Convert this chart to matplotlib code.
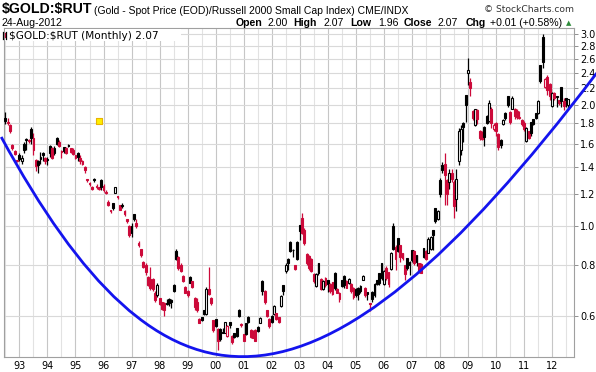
import numpy as np
import matplotlib.pyplot as plt
from matplotlib.path import Path
from matplotlib.patches import PathPatch, Rectangle
from matplotlib.lines import Line2D
from matplotlib.ticker import FixedLocator, FixedFormatter, NullLocator

# monthly bars, month index counted from Jan 1993 (= 0); first bar is Jul 1992
first_month = -6

opens = [
    1.86, 1.80, 1.78, 1.59, 1.54, 1.46,
    1.50, 1.45, 1.60, 1.65, 1.635, 1.74, 1.66, 1.46, 1.45, 1.47, 1.52, 1.48,
    1.47, 1.58, 1.56, 1.52, 1.66, 1.62, 1.54, 1.57, 1.56, 1.59, 1.56, 1.55,
    1.50, 1.52, 1.48, 1.45, 1.40, 1.31, 1.28, 1.25, 1.31, 1.25, 1.25, 1.30,
    1.26, 1.22, 1.15, 1.10, 1.14, 1.21, 1.19, 1.13, 1.13, 1.09, 1.04, 1.00,
    1.00, 1.07, 1.02, 0.91, 0.88, 0.817, 0.80, 0.75, 0.74, 0.74, 0.685, 0.676,
    0.663, 0.649, 0.645, 0.645, 0.66, 0.655, 0.715, 0.87, 0.84, 0.80, 0.755, 0.708,
    0.69, 0.75, 0.73, 0.665, 0.65, 0.59, 0.595, 0.62, 0.605, 0.70, 0.665, 0.585,
    0.588, 0.555, 0.555, 0.548, 0.545, 0.535, 0.58, 0.535, 0.543, 0.558, 0.62, 0.571,
    0.54, 0.574, 0.597, 0.553, 0.55, 0.553, 0.563, 0.575, 0.73, 0.69, 0.62, 0.59,
    0.60, 0.605, 0.608, 0.597, 0.633, 0.715, 0.775, 0.83, 0.916, 0.874, 0.80, 0.916,
    1.005, 1.05, 0.98, 0.855, 0.845, 0.83, 0.762, 0.712, 0.81, 0.74, 0.70, 0.745,
    0.735, 0.72, 0.728, 0.765, 0.70, 0.685, 0.736, 0.755, 0.73, 0.722, 0.72, 0.705,
    0.70, 0.705, 0.712, 0.737, 0.705, 0.688, 0.646, 0.689, 0.72, 0.736, 0.765, 0.81,
    0.72, 0.79, 0.77, 0.785, 1.00, 0.89, 0.934, 0.899, 0.857, 0.80, 0.833, 0.817,
    0.874, 0.87, 0.849, 0.81, 0.805, 0.882, 0.87, 0.86, 0.88, 0.98, 1.11, 1.04,
    1.30, 1.42, 1.43, 1.30, 1.29, 1.36, 1.29, 1.17, 1.45, 1.55, 1.80, 2.12,
    2.40, 2.28, 1.93, 1.78, 1.94, 1.72, 1.70, 1.76, 1.88, 1.83, 1.95, 1.74,
    1.80, 1.69, 1.64, 1.79, 1.91, 2.10, 1.92, 1.96, 1.96, 1.93, 1.855, 1.84,
    1.80, 1.63, 1.72, 1.82, 1.85, 1.91, 1.91, 2.52, 2.95, 2.22, 2.35, 2.26,
    1.99, 2.14, 2.10, 2.06, 2.22, 2.05, 2.08, 2.00,
]
highs = [
    1.92, 1.86, 1.79, 1.60, 1.55, 1.46,
    1.52, 1.50, 1.62, 1.66, 1.65, 1.76, 1.70, 1.47, 1.46, 1.53, 1.53, 1.49,
    1.49, 1.59, 1.57, 1.58, 1.67, 1.64, 1.55, 1.57, 1.57, 1.60, 1.56, 1.56,
    1.50, 1.53, 1.50, 1.46, 1.41, 1.31, 1.29, 1.26, 1.32, 1.27, 1.25, 1.31,
    1.27, 1.23, 1.16, 1.10, 1.14, 1.25, 1.19, 1.13, 1.14, 1.10, 1.04, 1.01,
    1.02, 1.07, 1.04, 0.92, 0.88, 0.82, 0.81, 0.752, 0.794, 0.745, 0.69, 0.722,
    0.665, 0.65, 0.65, 0.66, 0.665, 0.66, 0.718, 0.876, 0.845, 0.81, 0.757, 0.71,
    0.695, 0.752, 0.732, 0.669, 0.663, 0.591, 0.597, 0.62, 0.708, 0.794, 0.669, 0.585,
    0.589, 0.558, 0.558, 0.558, 0.58, 0.569, 0.58, 0.537, 0.545, 0.56, 0.622, 0.574,
    0.54, 0.575, 0.60, 0.555, 0.553, 0.555, 0.565, 0.595, 0.736, 0.695, 0.62, 0.591,
    0.603, 0.637, 0.608, 0.597, 0.676, 0.715, 0.81, 0.835, 0.92, 0.88, 0.802, 0.92,
    1.01, 1.077, 0.989, 0.857, 0.849, 0.833, 0.765, 0.765, 0.81, 0.743, 0.736, 0.75,
    0.736, 0.722, 0.729, 0.772, 0.702, 0.689, 0.736, 0.757, 0.736, 0.743, 0.722, 0.708,
    0.702, 0.708, 0.715, 0.757, 0.708, 0.689, 0.647, 0.69, 0.722, 0.736, 0.765, 0.81,
    0.78, 0.795, 0.772, 0.865, 1.017, 0.90, 0.935, 0.90, 0.86, 0.802, 0.835, 0.82,
    0.874, 0.874, 0.85, 0.81, 0.81, 0.882, 0.874, 0.943, 0.945, 0.98, 1.11, 1.10,
    1.32, 1.44, 1.52, 1.31, 1.39, 1.39, 1.30, 1.39, 1.75, 1.78, 1.82, 2.12,
    2.61, 2.33, 1.94, 1.96, 1.96, 1.73, 1.72, 1.77, 1.89, 2.06, 1.98, 1.80,
    1.82, 1.70, 1.65, 1.85, 1.92, 2.10, 1.93, 2.10, 1.97, 1.95, 1.93, 1.85,
    1.83, 1.76, 1.72, 1.82, 1.85, 1.91, 2.06, 2.52, 3.00, 2.33, 2.37, 2.27,
    2.16, 2.16, 2.10, 2.06, 2.22, 2.08, 2.08, 2.07,
]
lows = [
    1.79, 1.78, 1.70, 1.55, 1.50, 1.44,
    1.45, 1.43, 1.52, 1.55, 1.61, 1.60, 1.50, 1.37, 1.36, 1.43, 1.45, 1.43,
    1.42, 1.49, 1.47, 1.50, 1.59, 1.57, 1.48, 1.52, 1.51, 1.57, 1.52, 1.50,
    1.47, 1.45, 1.43, 1.42, 1.36, 1.29, 1.26, 1.23, 1.29, 1.24, 1.23, 1.23,
    1.22, 1.20, 1.12, 1.08, 1.10, 1.21, 1.17, 1.10, 1.11, 1.06, 1.02, 0.94,
    0.94, 1.03, 0.99, 0.89, 0.84, 0.79, 0.757, 0.713, 0.695, 0.69, 0.649, 0.669,
    0.637, 0.62, 0.60, 0.637, 0.635, 0.626, 0.689, 0.823, 0.779, 0.771, 0.726, 0.682,
    0.669, 0.722, 0.705, 0.62, 0.614, 0.574, 0.582, 0.603, 0.603, 0.676, 0.637, 0.548,
    0.563, 0.493, 0.518, 0.543, 0.543, 0.532, 0.558, 0.512, 0.527, 0.532, 0.597, 0.563,
    0.518, 0.537, 0.574, 0.527, 0.527, 0.518, 0.548, 0.574, 0.676, 0.643, 0.597, 0.558,
    0.574, 0.603, 0.585, 0.574, 0.632, 0.676, 0.765, 0.78, 0.865, 0.84, 0.78, 0.825,
    0.925, 0.955, 0.899, 0.80, 0.78, 0.772, 0.722, 0.708, 0.757, 0.695, 0.695, 0.708,
    0.689, 0.682, 0.675, 0.695, 0.682, 0.65, 0.708, 0.702, 0.702, 0.72, 0.682, 0.662,
    0.669, 0.657, 0.682, 0.735, 0.669, 0.657, 0.615, 0.65, 0.669, 0.715, 0.715, 0.736,
    0.715, 0.736, 0.708, 0.78, 0.874, 0.78, 0.865, 0.817, 0.825, 0.736, 0.78, 0.757,
    0.817, 0.802, 0.795, 0.765, 0.765, 0.833, 0.825, 0.857, 0.875, 0.874, 1.02, 1.035,
    1.18, 1.36, 1.13, 1.13, 1.24, 1.29, 1.05, 1.09, 1.42, 1.50, 1.62, 1.82,
    2.24, 2.10, 1.84, 1.77, 1.79, 1.64, 1.64, 1.58, 1.79, 1.82, 1.75, 1.72,
    1.68, 1.55, 1.56, 1.78, 1.84, 1.98, 1.79, 1.95, 1.85, 1.85, 1.85, 1.77,
    1.72, 1.62, 1.65, 1.68, 1.78, 1.85, 1.90, 2.27, 2.47, 2.20, 2.12, 2.06,
    1.98, 2.06, 1.98, 2.00, 1.98, 1.94, 1.98, 1.96,
]
closes = [
    1.83, 1.82, 1.72, 1.56, 1.51, 1.45,
    1.47, 1.48, 1.55, 1.64, 1.63, 1.66, 1.55, 1.41, 1.42, 1.49, 1.50, 1.45,
    1.46, 1.52, 1.48, 1.56, 1.60, 1.58, 1.53, 1.54, 1.52, 1.58, 1.53, 1.51,
    1.48, 1.49, 1.45, 1.43, 1.38, 1.30, 1.27, 1.24, 1.30, 1.26, 1.24, 1.25,
    1.23, 1.21, 1.13, 1.09, 1.11, 1.25, 1.18, 1.10, 1.12, 1.07, 1.03, 0.95,
    0.96, 1.04, 1.00, 0.90, 0.85, 0.794, 0.77, 0.715, 0.705, 0.70, 0.655, 0.715,
    0.64, 0.625, 0.62, 0.64, 0.645, 0.65, 0.69, 0.83, 0.79, 0.775, 0.73, 0.685,
    0.675, 0.725, 0.708, 0.63, 0.62, 0.576, 0.585, 0.605, 0.70, 0.68, 0.645, 0.552,
    0.565, 0.52, 0.525, 0.545, 0.578, 0.565, 0.57, 0.515, 0.53, 0.535, 0.60, 0.569,
    0.52, 0.54, 0.578, 0.53, 0.528, 0.52, 0.55, 0.593, 0.69, 0.65, 0.60, 0.565,
    0.578, 0.635, 0.59, 0.578, 0.672, 0.69, 0.80, 0.81, 0.87, 0.871, 0.785, 0.83,
    0.975, 0.965, 0.91, 0.81, 0.79, 0.775, 0.73, 0.76, 0.765, 0.70, 0.733, 0.715,
    0.72, 0.69, 0.68, 0.705, 0.685, 0.66, 0.712, 0.715, 0.705, 0.74, 0.69, 0.668,
    0.675, 0.68, 0.69, 0.755, 0.675, 0.68, 0.643, 0.66, 0.675, 0.72, 0.725, 0.745,
    0.775, 0.745, 0.72, 0.86, 0.88, 0.83, 0.87, 0.84, 0.835, 0.76, 0.79, 0.80,
    0.825, 0.81, 0.815, 0.772, 0.768, 0.84, 0.83, 0.93, 0.94, 0.95, 1.03, 1.09,
    1.20, 1.38, 1.34, 1.20, 1.36, 1.31, 1.12, 1.31, 1.72, 1.74, 1.76, 2.00,
    2.44, 2.20, 1.86, 1.95, 1.85, 1.66, 1.65, 1.67, 1.80, 2.02, 1.80, 1.78,
    1.72, 1.57, 1.59, 1.84, 1.86, 2.00, 1.82, 2.08, 1.88, 1.87, 1.865, 1.79,
    1.74, 1.75, 1.66, 1.70, 1.79, 1.86, 2.05, 2.30, 2.55, 2.32, 2.18, 2.10,
    2.14, 2.08, 2.09, 2.02, 2.05, 1.99, 2.06, 2.07,
]

year_ticks = list(range(0, 229, 12))
year_labels = ['93', '94', '95', '96', '97', '98', '99', '00', '01', '02',
               '03', '04', '05', '06', '07', '08', '09', '10', '11', '12']
price_ticks = [0.6, 0.8, 1.0, 1.2, 1.4, 1.6, 1.8, 2.0, 2.2, 2.4, 2.6, 2.8, 3.0]

# hand drawn support curve (cubic bezier control points, month / ratio)
curve_month = [-7.8, 60.6, 124.8, 247.1]
curve_value = [1.666, 0.312, 0.2785, 2.40]

# yellow event marker
marker_month = [34]
marker_value = [1.83]

RED = '#cc0a3a'
W, H = 596, 372

def fx(px):
    return px / W

def fy(py):
    return 1 - py / H

fig = plt.figure(figsize=(W / 100, H / 100), dpi=100)
ax = fig.add_axes([fx(4), fy(357), (574 - 4) / W, (357 - 28) / H])

o = np.array(opens)
h = np.array(highs)
l = np.array(lows)
c = np.array(closes)
months = np.arange(len(c)) + first_month

prev = np.r_[c[0], c[:-1]]
edge = np.where(c >= prev, 'black', RED)
fill = np.where(c > o, 'white', edge)

ax.vlines(months, l, h, colors=edge, linewidth=0.9, zorder=3)
ax.bar(months, np.abs(c - o), bottom=np.minimum(o, c), width=0.8,
       color=fill, edgecolor=edge, linewidth=0.8, zorder=4)

ax.scatter(marker_month, marker_value, marker='s', s=22, facecolor='#ffee00',
           edgecolor='#e8b400', linewidth=0.8, zorder=5)

curve = Path(np.column_stack([curve_month, curve_value]),
             [Path.MOVETO, Path.CURVE4, Path.CURVE4, Path.CURVE4])
ax.add_patch(PathPatch(curve, fill=False, edgecolor='#1414ee', lw=2.0,
                       clip_on=False, zorder=6))

ax.set_yscale('log')
ax.set_ylim(0.474, 3.105)
ax.set_xlim(-6.6, 237.4)

ax.xaxis.set_major_locator(FixedLocator(year_ticks))
ax.xaxis.set_major_formatter(FixedFormatter(year_labels))
ax.xaxis.set_minor_locator(FixedLocator([-6] + [t + 6 for t in year_ticks]))
ax.yaxis.set_major_locator(FixedLocator(price_ticks))
ax.yaxis.set_major_formatter(FixedFormatter(['%.1f' % v for v in price_ticks]))
ax.yaxis.set_minor_locator(NullLocator())
ax.yaxis.tick_right()

ax.grid(True, which='major', axis='x', color='#c6c6c6', lw=0.8)
ax.grid(True, which='minor', axis='x', color='#e2e2e2', lw=0.8)
ax.grid(True, which='major', axis='y', color='#d9d9d9', lw=0.8)
ax.set_axisbelow(True)

ax.tick_params(axis='x', which='both', length=0, labelsize=7, pad=3)
ax.tick_params(axis='y', which='major', length=3, width=0.7, color='#909090',
               labelsize=7, pad=1.5)
for s in ax.spines.values():
    s.set_color('#a0a0a0')
    s.set_linewidth(0.8)

# legend box in the top left corner of the plot
ax.add_patch(Rectangle((fx(4.5), fy(41)), fx(176), 12 / H, transform=fig.transFigure,
                       facecolor='white', edgecolor='none', zorder=7))
for x0, y0, y1, col in [(3, 32, 39, 'black'), (4.5, 33, 37, RED), (6, 32, 39, 'black')]:
    fig.add_artist(Line2D([fx(x0), fx(x0)], [fy(y0), fy(y1)], color=col, lw=0.9))
fig.text(fx(9), fy(39), '$GOLD:$RUT (Monthly) 2.07', fontsize=7.6,
         family='DejaVu Sans', va='baseline', parse_math=False)

# header
fig.text(fx(2), fy(13.5), '$GOLD:$RUT', fontsize=10.2, fontweight='bold',
         family='Liberation Sans', va='baseline', parse_math=False)
fig.text(fx(94), fy(13.5), '(Gold - Spot Price (EOD)/Russell 2000 Small Cap Index) CME/INDX',
         fontsize=7.5, family='Liberation Sans', va='baseline')
fig.text(fx(574), fy(12.5), '\u00a9 StockCharts.com', fontsize=6.6,
         family='DejaVu Sans', color='#333333', ha='right', va='baseline')
fig.text(fx(2), fy(26), '24-Aug-2012', fontsize=7.6, family='Liberation Sans', va='baseline')

stats = [(236, 'Open', True), (268, '2.00', False), (293, 'High', True), (323, '2.07', False),
         (350, 'Low', True), (378, '1.96', False), (404, 'Close', True), (438, '2.07', False),
         (466, 'Chg', True), (490, '+0.01 (+0.58%)', False)]
for x0, txt, bold in stats:
    fig.text(fx(x0), fy(26), txt, fontsize=7.6, family='Liberation Sans',
             fontweight='bold' if bold else 'normal', va='baseline')
fig.text(fx(566), fy(25.5), '\u25b2', fontsize=5, color='#2e8b3a',
         family='DejaVu Sans', va='baseline')

fig.savefig('out.png', dpi=100)
